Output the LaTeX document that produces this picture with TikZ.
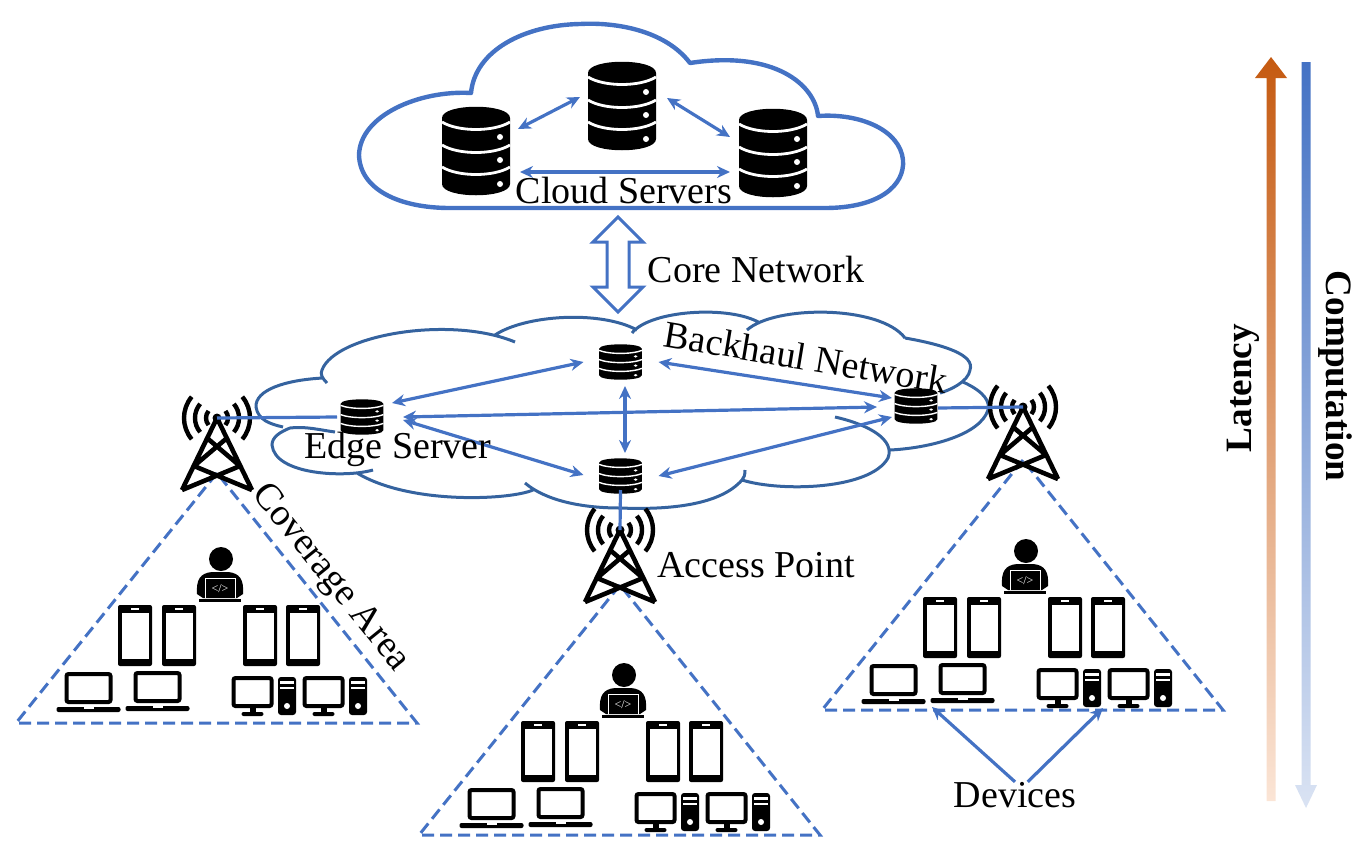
\documentclass[tikz,border=0pt]{standalone}
\usepackage{fontspec}
\setmainfont{Liberation Serif}
\usetikzlibrary{arrows.meta}
\definecolor{linkblue}{HTML}{4472C4}
\definecolor{cloudblue}{HTML}{4472C4}
\definecolor{meshblue}{HTML}{35639F}
\definecolor{latencyorange}{HTML}{C55A11}
\definecolor{latencypale}{HTML}{FBE5D6}
\definecolor{computepale}{HTML}{DAE3F3}
\tikzset{
    lbl/.style={font=\fontsize{19}{22}\selectfont,inner sep=0pt,text=black},
    boldlbl/.style={lbl,font=\fontsize{18.6}{22}\selectfont\bfseries},
    link/.style={<->,>={Stealth[length=6.5pt,width=6pt]},linkblue,line width=1.6pt},
    plainlink/.style={linkblue,line width=1.6pt},
    coverage/.style={linkblue,line width=1.5pt,dash pattern=on 6pt off 3pt},
    serverbox/.style={inner sep=0pt,minimum width=#1},
    pics/server/.style={code={
        \fill[black] (-34,-33) .. controls (-34,-48) and (34,-48) .. (34,-33)
            -- (34,33) .. controls (34,48) and (-34,48) .. (-34,33) -- cycle;
        \foreach \yy in {-29,-6,16}
            \draw[white,line width=#1] (-34,\yy) .. controls (-18,\yy+10) and (18,\yy+10) .. (34,\yy);
        \foreach \yy in {-14,9,33}
            \fill[white] (24,\yy) circle[radius=3];
    }},
    pics/tower/.style={code={
        \draw[black,line width=2.3pt,line join=round] (-35,72) -- (0,0) -- (35,72)
            (-10,20) -- (23,48) -- (-35,72) (10,20) -- (-23,48) -- (35,72);
        \fill[black] (0,0) circle[radius=4.5];
        \foreach \rr in {11,22,33} {
            \draw[black,line width=2.2pt] (-40:\rr) arc[start angle=-40,end angle=40,radius=\rr];
            \draw[black,line width=2.2pt] (140:\rr) arc[start angle=140,end angle=220,radius=\rr];
        }
    }},
    pics/phone/.style={code={
        \fill[black,rounded corners=1pt] (-17,-30.5) rectangle (17,30.5);
        \fill[white] (-13.5,-23) rectangle (13.5,23);
        \fill[white] (-4,-27.5) rectangle (4,-25.5);
    }},
    pics/laptop/.style={code={
        \draw[black,line width=2pt,rounded corners=1pt] (-22,-14) rectangle (22,14);
        \fill[black,rounded corners=1pt] (-32,19) rectangle (32,24);
        \fill[white] (-5,19) rectangle (5,20.5);
    }},
    pics/desktop/.style={code={
        \draw[black,line width=2pt,rounded corners=1pt] (-19,-14) rectangle (19,14);
        \fill[black] (-3,14) rectangle (3,21);
        \fill[black,rounded corners=1pt] (-11,20) rectangle (11,24);
        \fill[black,rounded corners=1.5pt] (25.5,-15) rectangle (43.5,23);
        \fill[white] (27.5,-11) rectangle (41.5,-8);
        \fill[white] (27.5,-5) rectangle (41.5,-3);
        \fill[white] (34.5,14) circle[radius=3];
    }},
    pics/user/.style={code={
        \fill[black] (1,-41) circle[radius=12];
        \fill[black] (-23,-6) .. controls (-24,-20) and (-20,-27) .. (-8,-28) -- (8,-28)
            .. controls (20,-27) and (24,-20) .. (23,-6) -- (17,-2) -- (-17,-2) -- cycle;
        \draw[white,line width=.5pt] (-15,-2) -- (-15,-22) -- (15,-22) -- (15,-2);
        \fill[black] (-21,-1) rectangle (21,2);
        \node[white,inner sep=0pt,font=\fontsize{6}{6}\selectfont] (codetag) at (0,-11) {</>};
    }}
}

\begin{document}
\begin{tikzpicture}[x=0.5pt,y=-0.5pt]
    \useasboundingbox (0,0) rectangle (1368,862);

    % cloud on top
    \draw[cloudblue,line width=2.2pt,line join=round] (450,208) -- (825,208)
        .. controls (880,208) and (905,185) .. (903,160)
        .. controls (900,130) and (860,113) .. (818,116)
        .. controls (815,85) and (775,50) .. (690,63)
        .. controls (665,30) and (615,22) .. (580,24)
        .. controls (525,25) and (475,50) .. (471,93)
        .. controls (420,90) and (360,115) .. (359,155)
        .. controls (360,190) and (400,208) .. (450,208) -- cycle;

    % backhaul cloud, lobes overlap at their ends
    \draw[meshblue,line width=1.5pt]
        (327,383) .. controls (322,378) and (320,374) .. (322,370)
            .. controls (335,335) and (450,315) .. (515,342)
        (495,335) .. controls (525,315) and (600,310) .. (637,330)
        (632,333) .. controls (650,310) and (730,305) .. (760,323)
        (747,330) .. controls (775,305) and (880,305) .. (905,338)
        (905,338) .. controls (945,345) and (975,355) .. (970,370)
            .. controls (968,382) and (950,390) .. (940,393)
        (963,382) .. controls (985,392) and (990,402) .. (988,410)
            .. controls (980,435) and (930,448) .. (890,450)
        (835,417) .. controls (870,425) and (895,440) .. (888,458)
            .. controls (870,490) and (780,492) .. (742,480)
        (745,470) .. controls (745,475) and (744,478) .. (742,480)
            .. controls (720,505) and (670,510) .. (620,508)
            .. controls (580,508) and (545,500) .. (525,483)
        (533,490) .. controls (510,500) and (410,505) .. (357,473)
        (373,470) .. controls (345,478) and (275,475) .. (272,445)
            .. controls (272,437) and (280,432) .. (290,428)
            .. controls (305,426) and (320,430) .. (335,432)
        (323,378) .. controls (285,380) and (255,390) .. (256,407)
            .. controls (258,420) and (270,424) .. (283,427);

    % coverage triangles
    \foreach \tx/\ty in {0/0,403/112,806/-13}
        \draw[coverage,shift={(\tx,\ty)}] (217,473) -- (16,723) -- (417,723) -- cycle;

    % devices of each area
    \foreach \gx/\gy in {0/0,403/116,805/-8} {
        \begin{scope}[shift={(\gx,\gy)}]
            \pic at (220,600) {user};
            \foreach \px in {135,179,260,303}
                \pic at (\px,635.5) {phone};
            \pic at (88.5,688) {laptop};
            \pic at (157.5,687) {laptop};
            \pic at (252.5,692) {desktop};
            \pic at (323.5,692) {desktop};
        \end{scope}
    }

    % servers
    \node[serverbox=34pt,minimum height=44pt] (cloudL) at (476,151) {};
    \node[serverbox=34pt,minimum height=44pt] (cloudT) at (622,106) {};
    \node[serverbox=34pt,minimum height=44pt] (cloudR) at (773,153) {};
    \foreach \srv in {cloudL,cloudT,cloudR}
        \pic at (\srv) {server=1.4pt};
    \node[serverbox=21.5pt,minimum height=17.5pt] (edgeL) at (362,417) {};
    \node[serverbox=21.5pt,minimum height=17.5pt] (edgeT) at (620.5,362) {};
    \node[serverbox=21.5pt,minimum height=17.5pt] (edgeB) at (620.5,476) {};
    \node[serverbox=21.5pt,minimum height=17.5pt] (edgeR) at (916,406) {};
    \foreach \srv in {edgeL,edgeT,edgeB,edgeR}
        \pic[xscale=.63,yscale=.4] at (\srv) {server=.7pt};

    % towers
    \node[inner sep=0pt,minimum size=4pt] (towerL) at (217,418) {};
    \node[inner sep=0pt,minimum size=4pt] (towerM) at (620,530) {};
    \node[inner sep=0pt,minimum size=4pt] (towerR) at (1023,407) {};
    \foreach \twr in {towerL,towerM,towerR}
        \pic at (\twr) {tower};

    % links between servers
    \draw[link] ([shift={(42,-22)}]cloudL.center) -- ([shift={(-42,-9)}]cloudT.center);
    \draw[link] ([shift={(45,-8)}]cloudT.center) -- ([shift={(-43,-16)}]cloudR.center);
    \draw[link] ([shift={(44,21)}]cloudL.center) -- ([shift={(-43,19)}]cloudR.center);
    \draw[link] ([shift={(30,-14)}]edgeL.center) -- ([shift={(-37,0)}]edgeT.center);
    \draw[link] ([shift={(41,0)}]edgeL.center) -- ([shift={(-39,1)}]edgeR.center);
    \draw[link] ([shift={(41,3)}]edgeL.center) -- ([shift={(-37,-1)}]edgeB.center);
    \draw[link] ([shift={(4.5,24)}]edgeT.center) -- ([shift={(4.5,-23)}]edgeB.center);
    \draw[link] ([shift={(38,0)}]edgeT.center) -- ([shift={(-24,-8)}]edgeR.center);
    \draw[link] ([shift={(38,0)}]edgeB.center) -- ([shift={(-24,11)}]edgeR.center);
    \draw[plainlink] (towerL.center) -- ([shift={(-25,0)}]edgeL.center);
    \draw[plainlink] ([shift={(22,2)}]edgeR.center) -- (towerR.center);
    \draw[plainlink] ([shift={(0,14)}]edgeB.center) -- (towerM.center);

    % core network arrow
    \draw[linkblue,line width=1.5pt,line join=miter,fill=white]
        (618,217) -- (643,242) -- (629,242) -- (629,287) -- (643,287) -- (618,312)
        -- (593,287) -- (607,287) -- (607,242) -- (593,242) -- cycle;

    % latency and computation
    \shade[top color=latencyorange,bottom color=latencypale]
        (1271,57) -- (1287,78) -- (1275.5,78) -- (1275.5,801) -- (1266.5,801) -- (1266.5,78) -- (1255,78) -- cycle;
    \shade[top color=linkblue,bottom color=computepale]
        (1301.5,62) -- (1310.5,62) -- (1310.5,785) -- (1317,785) -- (1306,808) -- (1295,785) -- (1301.5,785) -- cycle;

    % labels
    \node[lbl] (cloudtxt) at (624,190) {Cloud Servers};
    \node[lbl] (coretxt) at (756,269) {Core Network};
    \node[lbl,rotate=-9.5] (backhaultxt) at (806,357) {Backhaul Network};
    \node[lbl] (edgetxt) at (398,449) {Edge Server};
    \node[lbl,rotate=-51] (coveragetxt) at (330,578) {Coverage Area};
    \node[lbl] (accesstxt) at (756,565) {Access Point};
    \node[lbl] (devlabel) at (1015,795) {Devices};
    \node[boldlbl,rotate=90] (latencytxt) at (1243,388) {Latency};
    \node[boldlbl,rotate=-90] (computetxt) at (1335,376) {Computation};

    % devices pointers
    \coordinate (devL) at (932,707);
    \coordinate (devR) at (1103,708);
    \draw[plainlink,-{Stealth[length=6.5pt,width=6pt]}] (devlabel.north) -- (devL);
    \draw[plainlink,-{Stealth[length=6.5pt,width=6pt]}] (devlabel.46) -- (devR);

\end{tikzpicture}
\end{document}
